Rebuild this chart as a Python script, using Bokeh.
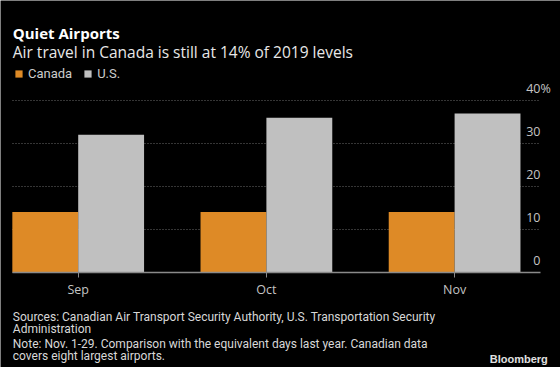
from bokeh.plotting import figure
from bokeh.models import (ColumnDataSource, Range1d, FixedTicker, Label,
                          Legend, LegendItem)
from bokeh.transform import dodge
from bokeh.embed import file_html
from bokeh.resources import INLINE
from bokeh.core.properties import value

# ---------------- data ----------------
MONTHS = ["Sep", "Oct", "Nov"]
CANADA = [14, 14, 14]
US = [32, 36, 37]
SERIES = ["Canada", "U.S."]
Y_TICKS = [0, 10, 20, 30, 40]
Y_TICK_LABELS = ["0", "10", "20", "30", "40"]
Y_UNIT = "%"
TITLE = "Quiet Airports"
SUBTITLE = "Air travel in Canada is still at 14% of 2019 levels"
FOOTER = [
    "Sources: Canadian Air Transport Security Authority, U.S. Transportation Security",
    "Administration",
    "Note: Nov. 1-29. Comparison with the equivalent days last year. Canadian data",
    "covers eight largest airports.",
]
BRAND = "Bloomberg"

# ---------------- style / layout ----------------
ORANGE = "#de8a26"
GREY = "#c0c0c0"
BG = "#000000"
TICK_TEXT = "#c4c4c4"
FONT = "Open Sans"
FOOT_FONT = "Roboto"
W, H = 560, 367

BAR_W = 0.35
X_BAR_START = -BAR_W
X_GRID_END = 2.4564
X_START, X_END = -0.41286, 2.56270
Y_START, Y_END = -22.20, 63.30

idx = list(range(len(MONTHS)))
source = ColumnDataSource(dict(idx=idx, month=MONTHS, canada=CANADA, us=US))

p = figure(width=W, height=H,
           x_range=Range1d(X_START, X_END), y_range=Range1d(Y_START, Y_END),
           output_backend="svg", toolbar_location=None, y_axis_location=None,
           min_border=0)
p.title = None
p.background_fill_color = BG
p.border_fill_color = BG
p.outline_line_color = None

r_ca = p.vbar(x=dodge("idx", -BAR_W / 2, range=p.x_range), top="canada", bottom=0,
              width=BAR_W, source=source, fill_color=ORANGE, line_color=None)
r_us = p.vbar(x=dodge("idx", BAR_W / 2, range=p.x_range), top="us", bottom=0,
              width=BAR_W, source=source, fill_color=GREY, line_color=None)

# grid
p.xgrid.visible = False
grid = p.ygrid[0]
grid.ticker = FixedTicker(ticks=Y_TICKS)
grid.grid_line_color = "#6a6a6a"
grid.grid_line_dash = "1 2"
grid.grid_line_width = 1
try:
    grid.cross_bounds = (X_BAR_START, X_GRID_END)
except AttributeError:
    grid.visible = False
    gsrc = ColumnDataSource(dict(y=Y_TICKS))
    p.segment(x0=X_BAR_START, x1=X_GRID_END, y0="y", y1="y", source=gsrc,
              line_color="#6a6a6a", line_dash="1 2", line_width=1, level="underlay")

# x axis at y = 0
xa = p.xaxis[0]
xa.fixed_location = 0
xa.bounds = (X_BAR_START, X_GRID_END)
xa.ticker = FixedTicker(ticks=idx)
xa.major_label_overrides = {i: m for i, m in zip(idx, MONTHS)}
xa.axis_line_color = "#8a8a8a"
xa.axis_line_width = 1.5
xa.major_tick_line_color = "#8a8a8a"
xa.major_tick_in = 0
xa.major_tick_out = 5
xa.minor_tick_line_color = None
xa.major_label_text_color = TICK_TEXT
xa.major_label_text_font = FONT
xa.major_label_text_font_size = "12.5px"
xa.major_label_standoff = 4

# y tick labels (right side, above grid lines)
ysrc = ColumnDataSource(dict(y=Y_TICKS, text=Y_TICK_LABELS))
p.text(x=X_GRID_END, y="y", text="text", source=ysrc, text_align="right",
       text_baseline="middle", y_offset=-11.6, text_color=TICK_TEXT,
       text_font=value(FONT), text_font_size="12.5px")
p.text(x=[X_GRID_END], y=[Y_TICKS[-1]], text=[Y_UNIT], text_align="left",
       text_baseline="middle", y_offset=-11.6, text_color=TICK_TEXT,
       text_font=value(FONT), text_font_size="12.5px")

# legend
legend = Legend(items=[LegendItem(label=SERIES[0], renderers=[r_ca]),
                       LegendItem(label=SERIES[1], renderers=[r_us])],
                location=(14, 286.5), orientation="horizontal",
                glyph_width=9, glyph_height=9, label_height=9, label_standoff=5,
                spacing=11, padding=0, margin=0, background_fill_alpha=0,
                border_line_color=None, label_text_color="#cccccc",
                label_text_font=FOOT_FONT, label_text_font_size="13px")
p.add_layout(legend)

# titles
p.add_layout(Label(x=12.3, y=H - 32.3, x_units="screen", y_units="screen", text=TITLE,
                   text_font=FONT, text_font_style="bold", text_font_size="15px",
                   text_color="#ffffff", text_baseline="alphabetic"))
p.add_layout(Label(x=12.3, y=H - 51, x_units="screen", y_units="screen", text=SUBTITLE,
                   text_font=FONT, text_font_size="15.5px",
                   text_color="#e8e8e8", text_baseline="alphabetic"))

# footer
for txt, base in zip(FOOTER, [316.7, 328.3, 343.3, 355.0]):
    p.add_layout(Label(x=12.3, y=H - base, x_units="screen", y_units="screen", text=txt,
                       text_font=FOOT_FONT, text_font_size="12px",
                       text_color="#d8d8d8", text_baseline="alphabetic"))
p.add_layout(Label(x=547.3, y=H - 358.7, x_units="screen", y_units="screen", text=BRAND,
                   text_font="Liberation Sans", text_font_style="bold", text_font_size="11px",
                   text_color="#e0e0e0", text_align="right", text_baseline="alphabetic"))

open("out.html", "w").write(file_html(p, INLINE))
